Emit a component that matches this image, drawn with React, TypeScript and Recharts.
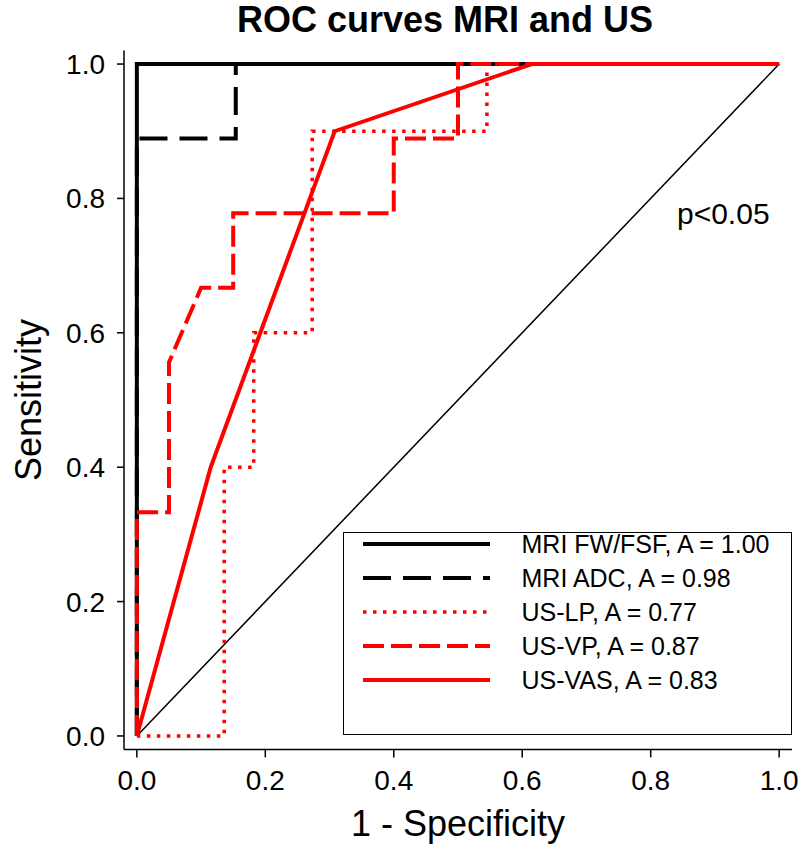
import { LineChart, Line, XAxis, YAxis, Legend, ReferenceDot, Label } from "recharts";

// ROC points: false positive rate (1 - specificity) vs sensitivity
const fwFpr = [0, 0, 1];
const fwTpr = [0, 1, 1];
const adcFpr = [0, 0, 0.154, 0.154, 1];
const adcTpr = [0, 0.889, 0.889, 1, 1];
const lpFpr = [0, 0.136, 0.136, 0.182, 0.182, 0.273, 0.273, 0.545, 0.545, 1];
const lpTpr = [0, 0, 0.4, 0.4, 0.6, 0.6, 0.9, 0.9, 1, 1];
const vpFpr = [0, 0, 0.05, 0.05, 0.1, 0.15, 0.15, 0.4, 0.4, 0.5, 0.5, 1];
const vpTpr = [0, 0.333, 0.333, 0.556, 0.667, 0.667, 0.778, 0.778, 0.889, 0.889, 1, 1];
const vasFpr = [0, 0.115, 0.308, 0.615, 1];
const vasTpr = [0, 0.4, 0.9, 1, 1];
const chanceFpr = [0, 1];
const chanceTpr = [0, 1];

const axisTicks = [0, 0.2, 0.4, 0.6, 0.8, 1.0];
const seriesNames = [
  "MRI FW/FSF, A = 1.00",
  "MRI ADC, A = 0.98",
  "US-LP, A = 0.77",
  "US-VP, A = 0.87",
  "US-VAS, A = 0.83",
];

const toPoints = (xs: number[], ys: number[]) => xs.map((x, i) => ({ x, y: ys[i] }));

const series = [
  { name: seriesNames[0], data: toPoints(fwFpr, fwTpr), stroke: "#000", dash: undefined, width: 4 },
  { name: seriesNames[1], data: toPoints(adcFpr, adcTpr), stroke: "#000", dash: "28 12", width: 4 },
  { name: seriesNames[2], data: toPoints(lpFpr, lpTpr), stroke: "#ff0000", dash: "3.5 6.5", width: 3.5 },
  { name: seriesNames[3], data: toPoints(vpFpr, vpTpr), stroke: "#ff0000", dash: "21 7", width: 4 },
  { name: seriesNames[4], data: toPoints(vasFpr, vasTpr), stroke: "#ff0000", dash: undefined, width: 4 },
];

const FONT = '"Liberation Sans", Arial, Helvetica, sans-serif';

const renderLegend = () => (
  <div
    style={{
      position: "relative",
      width: 449,
      height: 203,
      border: "1.5px solid #000",
      boxSizing: "border-box",
      background: "#fff",
      fontFamily: FONT,
    }}
  >
    {series.map((s, i) => {
      const cy = 12 + i * 34 - 1.5;
      return (
        <div key={s.name}>
          <svg
            width={127}
            height={10}
            style={{ position: "absolute", left: 18.5, top: cy - 5 }}
          >
            <line
              x1={0}
              y1={5}
              x2={127}
              y2={5}
              stroke={s.stroke}
              strokeWidth={s.width}
              strokeDasharray={s.dash}
            />
          </svg>
          <span
            style={{
              position: "absolute",
              left: 177.5,
              top: cy - 17,
              fontSize: 25,
              lineHeight: "34px",
              whiteSpace: "nowrap",
              color: "#000",
            }}
          >
            {s.name}
          </span>
        </div>
      );
    })}
  </div>
);

const YTitle = (props: any) => {
  const { viewBox } = props;
  const x = 41;
  const y = viewBox.y + viewBox.height / 2;
  return (
    <text
      x={x}
      y={y}
      transform={`rotate(-90, ${x}, ${y})`}
      textAnchor="middle"
      fontSize={36}
      fill="#000"
    >
      Sensitivity
    </text>
  );
};

const XTitle = (props: any) => {
  const { viewBox } = props;
  const x = viewBox.x + viewBox.width / 2;
  return (
    <text x={x} y={836} textAnchor="middle" fontSize={36} fill="#000">
      1 - Specificity
    </text>
  );
};

export default function App() {
  const axisStyle = { stroke: "#000", strokeWidth: 1.5 };
  return (
    <div style={{ position: "relative", width: 800, height: 845, fontFamily: FONT, color: "#000" }}>
      <style>{"body{margin:0;overflow:hidden}"}</style>
      <div
        style={{
          position: "absolute",
          top: 1,
          left: 45,
          width: 800,
          textAlign: "center",
          fontSize: 36,
          fontWeight: "bold",
          lineHeight: "38px",
          zIndex: 2,
        }}
      >
        ROC curves MRI and US
      </div>
      <LineChart
        width={800}
        height={845}
        margin={{ top: 50.6, right: 8, bottom: 35.6, left: 0 }}
      >
        <XAxis
          dataKey="x"
          type="number"
          domain={[-0.02, 1.02]}
          allowDataOverflow
          ticks={axisTicks}
          interval={0}
          tickFormatter={(v: number) => v.toFixed(1)}
          height={60}
          tickSize={8}
          tickMargin={13}
          tick={{ fontSize: 28, fill: "#000" }}
          axisLine={axisStyle}
          tickLine={axisStyle}
        >
          <Label content={XTitle} />
        </XAxis>
        <YAxis
          type="number"
          domain={[-0.02, 1.02]}
          allowDataOverflow
          ticks={axisTicks}
          interval={0}
          tickFormatter={(v: number) => v.toFixed(1)}
          width={124}
          tickSize={7}
          tickMargin={12}
          tick={{ fontSize: 28, fill: "#000" }}
          axisLine={axisStyle}
          tickLine={axisStyle}
        >
          <Label content={YTitle} />
        </YAxis>
        <Line
          data={toPoints(chanceFpr, chanceTpr)}
          dataKey="y"
          type="linear"
          stroke="#000"
          strokeWidth={1.5}
          dot={false}
          activeDot={false}
          legendType="none"
          isAnimationActive={false}
        />
        {series.map((s) => (
          <Line
            key={s.name}
            name={s.name}
            data={s.data}
            dataKey="y"
            type="linear"
            stroke={s.stroke}
            strokeWidth={s.width}
            strokeDasharray={s.dash}
            dot={false}
            activeDot={false}
            isAnimationActive={false}
          />
        ))}
        <ReferenceDot
          x={0.913}
          y={0.778}
          r={1}
          fill="none"
          stroke="none"
          ifOverflow="visible"
          label={{ value: "p<0.05", position: "center", fontSize: 30, fill: "#000" }}
        />
        <Legend
          layout="vertical"
          align="center"
          verticalAlign="middle"
          wrapperStyle={{ left: 343, top: 532, width: 449, height: 203 }}
          content={renderLegend}
        />
      </LineChart>
    </div>
  );
}
